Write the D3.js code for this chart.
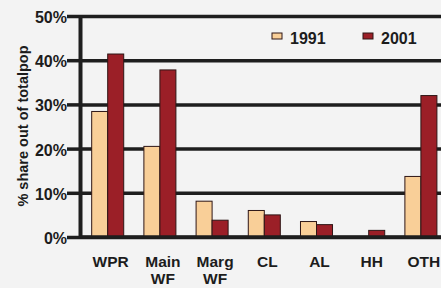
<!DOCTYPE html>
<html>
<head>
<meta charset="utf-8">
<script src="https://cdn.jsdelivr.net/npm/d3@7"></script>
<style>
  html, body { margin: 0; padding: 0; background: #f3f3f3; }
  svg { display: block; }
  text { font-family: "Liberation Sans", Arial, sans-serif; font-weight: bold; fill: #1c1c1c; }
</style>
</head>
<body>
<div id="chart"></div>
<script>
const categories = ["WPR", "Main WF", "Marg WF", "CL", "AL", "HH", "OTH"];
const years = ["1991", "2001"];
const values1991 = [28.4, 20.5, 8.1, 6.0, 3.5, 0, 13.7];
const values2001 = [41.4, 37.8, 3.8, 5.0, 2.8, 1.5, 32.0];
const yTicks = [0, 10, 20, 30, 40, 50];
const colors = { "1991": "#f9cf98", "2001": "#9b1f27" };

const W = 441, H = 288;
const svg = d3.select("#chart").append("svg").attr("width", W).attr("height", H);
svg.append("rect").attr("width", W).attr("height", H).attr("fill", "#f3f3f3");

const axisX = 80, plotRight = 441;
const y = d3.scaleLinear().domain([0, 50]).range([237, 16]);
const x = d3.scaleBand().domain(categories).range([81.6, 447]).paddingInner(0).paddingOuter(0);
const xs = d3.scaleBand().domain(years).range([0, x.bandwidth()]).paddingInner(0).paddingOuter(0.63);

// gridlines
const grid = svg.append("g").attr("transform", `translate(${axisX},0)`)
  .call(d3.axisLeft(y).tickValues(yTicks).tickSize(-(plotRight - axisX)).tickFormat(""));
grid.select(".domain").remove();
grid.selectAll("line").attr("stroke", "#1e1e1e").attr("stroke-width", 3.5);

// bars
const data = categories.map((c, i) => ({ cat: c, vals: [
  { year: "1991", v: values1991[i] }, { year: "2001", v: values2001[i] } ] }));
const groups = svg.append("g").selectAll("g").data(data).join("g")
  .attr("transform", d => `translate(${x(d.cat)},0)`);
groups.selectAll("rect").data(d => d.vals.filter(e => e.v > 0)).join("rect")
  .attr("x", d => xs(d.year))
  .attr("width", xs.bandwidth())
  .attr("y", d => y(d.v))
  .attr("height", d => y(0) - y(d.v))
  .attr("fill", d => colors[d.year])
  .attr("stroke", "#2e1616")
  .attr("stroke-width", 1);

// baseline redraw on top
svg.append("line").attr("x1", axisX).attr("x2", plotRight).attr("y1", y(0)).attr("y2", y(0))
  .attr("stroke", "#1e1e1e").attr("stroke-width", 3.5);

// y axis with outward ticks and labels
const yAxis = svg.append("g").attr("transform", `translate(${axisX},0)`)
  .call(d3.axisLeft(y).tickValues(yTicks).tickSize(13).tickPadding(0).tickSizeOuter(0)
    .tickFormat(d => d + "%"));
yAxis.select(".domain").attr("stroke", "#1e1e1e").attr("stroke-width", 4);
yAxis.selectAll("line").attr("stroke", "#1e1e1e").attr("stroke-width", 3.5);
yAxis.selectAll("text").style("font-size", "16px").attr("dy", "0.4em").attr("fill", "#1c1c1c");

// x axis labels
const xAxis = svg.append("g").attr("transform", `translate(0,${y(0)})`)
  .call(d3.axisBottom(x).tickSize(0).tickPadding(0));
xAxis.select(".domain").remove();
xAxis.selectAll("text").each(function(d) {
  const t = d3.select(this);
  t.text(null).attr("y", 30).attr("dy", 0).style("font-size", "15.5px").attr("fill", "#1c1c1c");
  d.split(" ").forEach((part, i) => {
    t.append("tspan").attr("x", 0).attr("dx", 3).attr("dy", i === 0 ? 0 : 16.5).text(part);
  });
});

// y title
svg.append("text")
  .attr("transform", "translate(28,126) rotate(-90)")
  .attr("text-anchor", "middle")
  .style("font-size", "14.5px")
  .text("% share out of totalpop");

// legend
const legendX = [272, 363];
const legend = svg.append("g").selectAll("g").data(years).join("g")
  .attr("transform", (d, i) => `translate(${legendX[i]},33)`);
legend.append("rect").attr("width", 10).attr("height", 6)
  .attr("fill", d => colors[d]).attr("stroke", "#2e1616").attr("stroke-width", 1);
legend.append("text").attr("x", 18).attr("y", 10.5).style("font-size", "16px").text(d => d);
</script>
</body>
</html>
